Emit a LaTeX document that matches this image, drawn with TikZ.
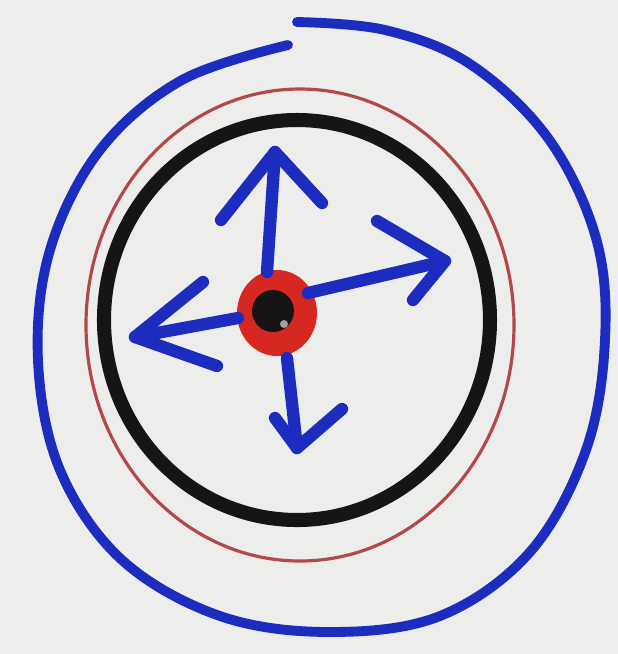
\documentclass[tikz,border=0pt]{standalone}
\usepackage{xcolor}
\definecolor{paper}{RGB}{237,237,235}
\definecolor{inkblue}{RGB}{28,44,190}
\definecolor{inkred}{RGB}{178,72,72}
\definecolor{dotred}{RGB}{214,40,32}
\definecolor{inkblack}{RGB}{22,20,20}
\tikzset{
  bluepen/.style={inkblue,line width=5.6pt,line cap=round,line join=round},
  arrowpen/.style={bluepen,line width=7pt},
}

\begin{document}
\begin{tikzpicture}[x=0.02cm,y=-0.02cm]
    % background
    \fill[paper] (0,0) rectangle (618,654);
    \useasboundingbox (0,0) rectangle (618,654);

    % outer blue ring, open at the top
    \draw[bluepen] plot[smooth,tension=0.6] coordinates {
        (297,22) (385,30) (470,64) (548,138) (596,238) (605,340)
        (586,450) (530,552) (440,616) (330,632) (220,616) (122,560)
        (60,470) (38,360) (50,250) (100,150) (182,80) (288,45)};

    % thin red ring
    \draw[inkred,line width=1.8pt] (300,325) ellipse (214 and 236);

    % black ring
    \draw[inkblack,line width=8pt] (297,320) ellipse (193 and 200);

    % centre
    \coordinate (O) at (277,313);
    \fill[dotred] (O) ellipse (40 and 43);
    \fill[inkblack] (273,311) circle (21);
    \fill[white,opacity=0.6] (284,324) circle (4);

    % arrow points
    \coordinate (U0) at (267,272);
    \coordinate (U) at (275,152);
    \coordinate (U1) at (221,220);
    \coordinate (U2) at (322,203);

    \coordinate (R0) at (308,293);
    \coordinate (R) at (445,261);
    \coordinate (R1) at (377,221);
    \coordinate (R2) at (413,300);

    \coordinate (L0) at (238,318);
    \coordinate (L) at (135,337);
    \coordinate (L1) at (203,282);
    \coordinate (L2) at (217,366);

    \coordinate (D0) at (287,358);
    \coordinate (D) at (297,448);
    \coordinate (D1) at (275,418);
    \coordinate (D2) at (342,409);

    % the four arrows
    \draw[arrowpen] (U0) -- (U);
    \draw[arrowpen] (U1) -- (U) -- (U2);
    \draw[arrowpen] (R0) -- (R);
    \draw[arrowpen] (R1) -- (R) -- (R2);
    \draw[arrowpen] (L0) -- (L);
    \draw[arrowpen] (L1) -- (L) -- (L2);
    \draw[arrowpen] (D0) -- (D);
    \draw[arrowpen] (D1) -- (D) -- (D2);

\end{tikzpicture}
\end{document}
